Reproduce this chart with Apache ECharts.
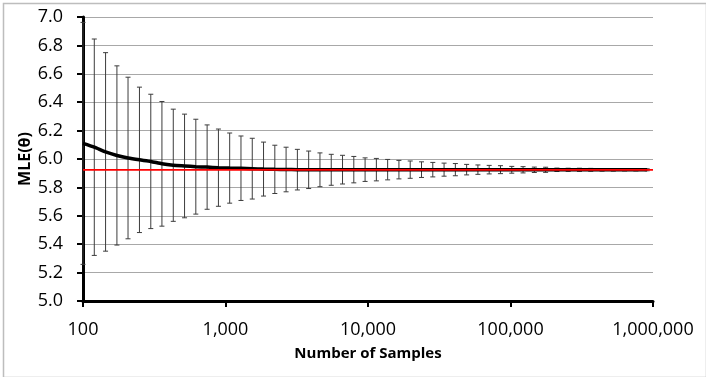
<!DOCTYPE html>
<html>
<head>
<meta charset="utf-8">
<script src="https://cdn.jsdelivr.net/npm/echarts@6/dist/echarts.min.js"></script>
<style>
html,body{margin:0;padding:0;background:#fff;}
#chart{width:706px;height:377px;}
</style>
</head>
<body>
<div id="chart"></div>
<script>
// Number of samples (x values)
const samples = [100, 120, 144, 173, 207, 249, 299, 358, 430, 516, 619, 743, 892,
  1070, 1284, 1541, 1849, 2219, 2662, 3195, 3834, 4601, 5521, 6625, 7950, 9540,
  11448, 13737, 16484, 19781, 23738, 28485, 34182, 41018, 49222, 59067, 70880, 85056,
  102068, 122481, 146977, 176373, 211647, 253977, 304772, 365726, 438871, 526646,
  631975, 758370, 910044];
// Mean MLE estimate at each sample size
const mle = [6.11, 6.083, 6.05, 6.025, 6.007, 5.994, 5.983, 5.966, 5.956, 5.951, 5.946,
  5.943, 5.939, 5.936, 5.935, 5.932, 5.929, 5.927, 5.926, 5.925, 5.924, 5.924, 5.924,
  5.925, 5.925, 5.925, 5.925, 5.925, 5.925, 5.925, 5.925, 5.925, 5.925, 5.925, 5.925,
  5.925, 5.925, 5.925, 5.924, 5.924, 5.924, 5.924, 5.924, 5.924, 5.924, 5.924, 5.924,
  5.924, 5.924, 5.924, 5.924];
// Error bar half-width at each sample size
const err = [0.852, 0.762, 0.699, 0.631, 0.569, 0.512, 0.473, 0.439, 0.395, 0.365, 0.334,
  0.297, 0.272, 0.247, 0.227, 0.214, 0.19, 0.17, 0.157, 0.143, 0.132, 0.119, 0.109,
  0.101, 0.093, 0.083, 0.079, 0.072, 0.065, 0.061, 0.055, 0.051, 0.046, 0.043, 0.037,
  0.033, 0.030, 0.028, 0.024, 0.022, 0.019, 0.018, 0.012, 0.011, 0.011, 0.010, 0.009,
  0.009, 0.008, 0.008, 0.007];
// True parameter value (red reference line)
const trueTheta = 5.923;
const refX = [100, 1000000];
const yTicks = {min: 5.0, max: 7.0, step: 0.2};
const xTitle = 'Number of Samples';
const yTitle = 'MLE(θ)';

const font = '"Open Sans", "Liberation Sans", sans-serif';
const chart = echarts.init(document.getElementById('chart'), null, {renderer: 'canvas'});

const lineData = samples.map((s, i) => [s, mle[i]]);
const barData = samples.map((s, i) => [s, mle[i] - err[i], mle[i] + err[i]]);
const refData = refX.map(x => [x, trueTheta]);

chart.setOption({
  backgroundColor: '#ffffff',
  animation: false,
  graphic: [{
    type: 'rect', left: 1, top: 1, z: -10,
    shape: {width: 703, height: 374},
    style: {fill: 'none', stroke: '#bdbdbd', lineWidth: 1.5}
  }],
  grid: {left: 83, right: 53, top: 17, bottom: 76, containLabel: false},
  xAxis: {
    type: 'log', logBase: 10, min: 100, max: 1000000,
    name: xTitle, nameLocation: 'middle', nameGap: 45, nameMoveOverlap: false,
    nameTextStyle: {fontFamily: font, fontWeight: 'bold', fontSize: 15, color: '#000'},
    axisLine: {show: true, onZero: false, lineStyle: {color: '#000', width: 3}},
    axisTick: {show: true, inside: false, length: 6, lineStyle: {color: '#000', width: 2}},
    minorTick: {show: false},
    splitLine: {show: false},
    axisLabel: {
      fontFamily: font, fontSize: 18, color: '#000', margin: 20,
      formatter: v => Number(v).toLocaleString('en-US')
    }
  },
  yAxis: {
    type: 'value', min: yTicks.min, max: yTicks.max, interval: yTicks.step,
    name: yTitle, nameLocation: 'middle', nameGap: 50, nameRotate: 90, nameMoveOverlap: false,
    nameTextStyle: {fontFamily: font, fontWeight: 'bold', fontSize: 16, color: '#000'},
    axisLine: {show: true, lineStyle: {color: '#000', width: 3}},
    axisTick: {show: true, inside: false, length: 6, lineStyle: {color: '#000', width: 2}},
    splitLine: {show: true, lineStyle: {color: '#a8a8a8', width: 1.2}},
    axisLabel: {
      fontFamily: font, fontSize: 18, color: '#000', margin: 20,
      formatter: v => Number(v).toFixed(1)
    }
  },
  series: [
    {
      type: 'custom', name: 'errors', z: 2,
      data: barData,
      renderItem: function (params, api) {
        const x = api.value(0);
        const lo = api.coord([x, api.value(1)]);
        const hi = api.coord([x, api.value(2)]);
        const cap = 2.5;
        const st = {stroke: '#3c3c3c', lineWidth: 1};
        return {
          type: 'group',
          children: [
            {type: 'line', shape: {x1: lo[0], y1: lo[1], x2: hi[0], y2: hi[1]}, style: st},
            {type: 'line', shape: {x1: hi[0] - cap, y1: hi[1], x2: hi[0] + cap, y2: hi[1]}, style: st},
            {type: 'line', shape: {x1: lo[0] - cap, y1: lo[1], x2: lo[0] + cap, y2: lo[1]}, style: st}
          ]
        };
      }
    },
    {
      type: 'line', name: 'MLE', z: 3,
      data: lineData, showSymbol: false, symbol: 'none', smooth: 0.2,
      lineStyle: {color: '#000', width: 3.5}
    },
    {
      type: 'line', name: 'true', z: 4,
      data: refData, showSymbol: false, symbol: 'none',
      lineStyle: {color: '#ff0000', width: 1.8}
    }
  ]
});
</script>
</body>
</html>
